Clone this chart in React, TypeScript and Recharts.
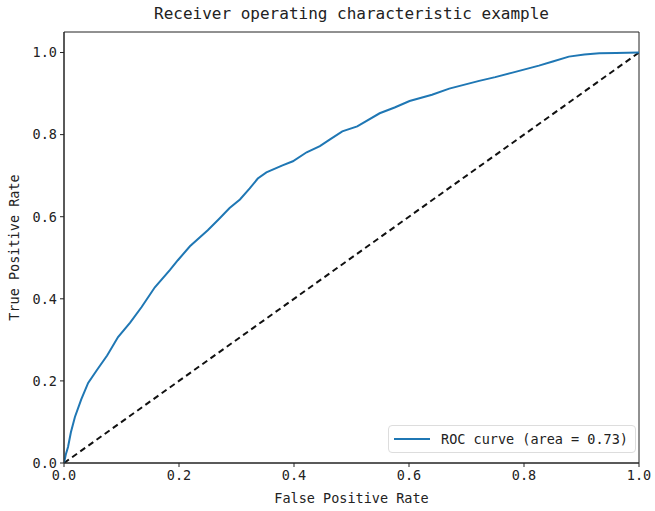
import React from "react";
import {
  LineChart,
  Line,
  XAxis,
  YAxis,
  ReferenceArea,
} from "recharts";

const fpr = [
  0, 0.003, 0.007, 0.012, 0.019, 0.03, 0.042, 0.057, 0.075, 0.094, 0.115, 0.135,
  0.158, 0.184, 0.198, 0.219, 0.25, 0.27, 0.288, 0.306, 0.323, 0.337, 0.352,
  0.38, 0.398, 0.422, 0.445, 0.462, 0.484, 0.51, 0.549, 0.575, 0.601, 0.64,
  0.67, 0.722, 0.75, 0.78, 0.826, 0.85, 0.878, 0.905, 0.931, 0.96, 1.0,
];
const tpr = [
  0, 0.02, 0.039, 0.075, 0.112, 0.155, 0.195, 0.226, 0.262, 0.307, 0.342, 0.38,
  0.428, 0.47, 0.494, 0.528, 0.567, 0.595, 0.621, 0.642, 0.669, 0.693, 0.708,
  0.725, 0.735, 0.757, 0.772, 0.788, 0.808, 0.82, 0.852, 0.866, 0.882, 0.897,
  0.912, 0.931, 0.94, 0.951, 0.968, 0.978, 0.99, 0.995, 0.998, 0.999, 1.0,
];
const chanceX = [0, 1];
const chanceY = [0, 1];
const ticks = [0, 0.2, 0.4, 0.6, 0.8, 1.0];

const rocData = fpr.map((x, i) => ({ x, y: tpr[i] }));
const chanceData = chanceX.map((x, i) => ({ x, y: chanceY[i] }));

const FONT = "'DejaVu Sans Mono', monospace";
const INK = "#222";

export default function App() {
  return (
    <div style={{ position: "absolute", left: 0, top: 0, width: 655, height: 511, background: "#fff" }}>
      <div
        style={{
          position: "absolute",
          left: 64,
          width: 575,
          top: 4,
          textAlign: "center",
          fontFamily: FONT,
          fontSize: 16,
          color: INK,
        }}
      >
        Receiver operating characteristic example
      </div>
      <LineChart
        width={655}
        height={511}
        margin={{ top: 32, right: 16, bottom: 8, left: 8 }}
      >
        <XAxis
          dataKey="x"
          type="number"
          domain={[0, 1]}
          ticks={ticks}
          tickFormatter={(v: number) => v.toFixed(1)}
          height={40}
          tickSize={4}
          tickMargin={3}
          stroke={INK}
          tick={{ fill: INK, fontSize: 13.5, fontFamily: FONT }}
          allowDataOverflow
          label={{
            value: "False Positive Rate",
            position: "insideBottom",
            offset: 0,
            style: { fill: INK, fontSize: 13.5, fontFamily: FONT },
          }}
        />
        <YAxis
          dataKey="y"
          type="number"
          domain={[0, 1.05]}
          ticks={ticks}
          tickFormatter={(v: number) => v.toFixed(1)}
          width={56}
          tickSize={4}
          tickMargin={3}
          stroke={INK}
          tick={{ fill: INK, fontSize: 13.5, fontFamily: FONT }}
          allowDataOverflow
          label={{
            value: "True Positive Rate",
            angle: -90,
            position: "insideLeft",
            offset: 6,
            style: { fill: INK, fontSize: 13.5, fontFamily: FONT, textAnchor: "middle" },
          }}
        />
        <ReferenceArea
          x1={0}
          x2={1}
          y1={0}
          y2={1.05}
          fill="none"
          fillOpacity={0}
          stroke={INK}
          strokeWidth={1}
          ifOverflow="visible"
        />
        <Line
          data={chanceData}
          dataKey="y"
          stroke="#111"
          strokeWidth={2}
          strokeDasharray="6 4"
          dot={false}
          isAnimationActive={false}
        />
        <Line
          data={rocData}
          dataKey="y"
          stroke="#1f77b4"
          strokeWidth={2}
          dot={false}
          isAnimationActive={false}
        />
      </LineChart>
      <div
        style={{
          position: "absolute",
          left: 388,
          top: 425,
          width: 248,
          height: 28,
          boxSizing: "border-box",
          border: "1px solid #ddd",
          borderRadius: 4,
          background: "rgba(255,255,255,0.8)",
          display: "flex",
          alignItems: "center",
          fontFamily: FONT,
          fontSize: 13.5,
          color: INK,
        }}
      >
        <span style={{ display: "inline-block", width: 36, height: 2, background: "#1f77b4", marginLeft: 5, marginRight: 11 }} />
        <span>ROC curve (area = 0.73)</span>
      </div>
    </div>
  );
}
